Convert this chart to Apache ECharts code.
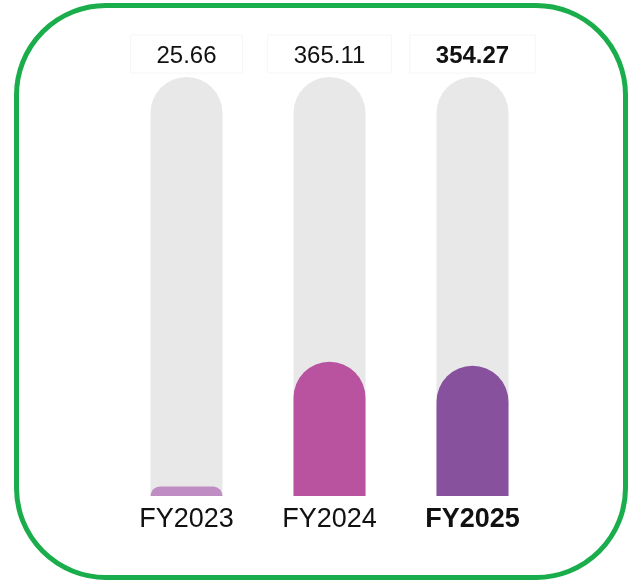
<!DOCTYPE html>
<html>
<head>
<meta charset="utf-8">
<script src="https://cdn.jsdelivr.net/npm/echarts@6/dist/echarts.min.js"></script>
<style>
  html, body { margin: 0; padding: 0; background: #fff; }
  #frame {
    position: absolute; left: 14px; top: 3px;
    width: 604px; height: 567px;
    border: 5px solid #1aad4b; border-radius: 92px;
  }
  #chart { position: absolute; left: 0; top: 0; width: 637px; height: 582px; }
</style>
</head>
<body>
<div id="frame"></div>
<div id="chart"></div>
<script>
const categories = ['FY2023', 'FY2024', 'FY2025'];
const values = [25.66, 365.11, 354.27];
const fillColors = ['#c08cc4', '#b9529f', '#88519e'];
const axisMax = 1140;

const chart = echarts.init(document.getElementById('chart'));

const option = {
    animation: false,
    grid: {
        left: 115,
        right: 93,
        top: 77,
        bottom: 86
    },
    xAxis: {
        type: 'category',
        data: categories,
        axisLine: { show: false },
        axisTick: { show: false },
        axisLabel: {
            interval: 0,
            hideOverlap: false,
            margin: 10,
            fontFamily: 'Liberation Sans, Arial, sans-serif',
            fontSize: 27,
            color: '#111',
            formatter: (v, i) => i === 2 ? '{b|' + v + '}' : v,
            rich: {
                b: { fontWeight: 'bold', fontSize: 27, color: '#111', fontFamily: 'Liberation Sans, Arial, sans-serif' }
            }
        }
    },
    yAxis: {
        type: 'value',
        min: 0,
        max: axisMax,
        show: false,
        splitLine: { show: false }
    },
    series: [
        {
            // grey track behind each bar, carries the value label on top
            type: 'bar',
            barWidth: 72,
            barGap: '-100%',
            silent: true,
            itemStyle: { color: '#e8e8e8', borderRadius: [36, 36, 0, 0] },
            label: {
                show: true,
                position: 'top',
                distance: 4,
                padding: [9, 26, 5, 26],
                borderColor: '#f6f6f6',
                borderWidth: 1,
                fontFamily: 'Liberation Sans, Arial, sans-serif',
                fontSize: 24,
                color: '#111',
                formatter: (p) => values[p.dataIndex].toFixed(2)
            },
            data: categories.map((c, i) => ({
                value: axisMax,
                label: i === 2 ? { fontWeight: 'bold' } : {}
            })),
            z: 1
        },
        {
            type: 'bar',
            barWidth: 72,
            barGap: '-100%',
            itemStyle: { borderRadius: [36, 36, 0, 0] },
            data: values.map((v, i) => ({
                value: v,
                itemStyle: { color: fillColors[i] }
            })),
            z: 2
        }
    ]
};

chart.setOption(option);
</script>
</body>
</html>
